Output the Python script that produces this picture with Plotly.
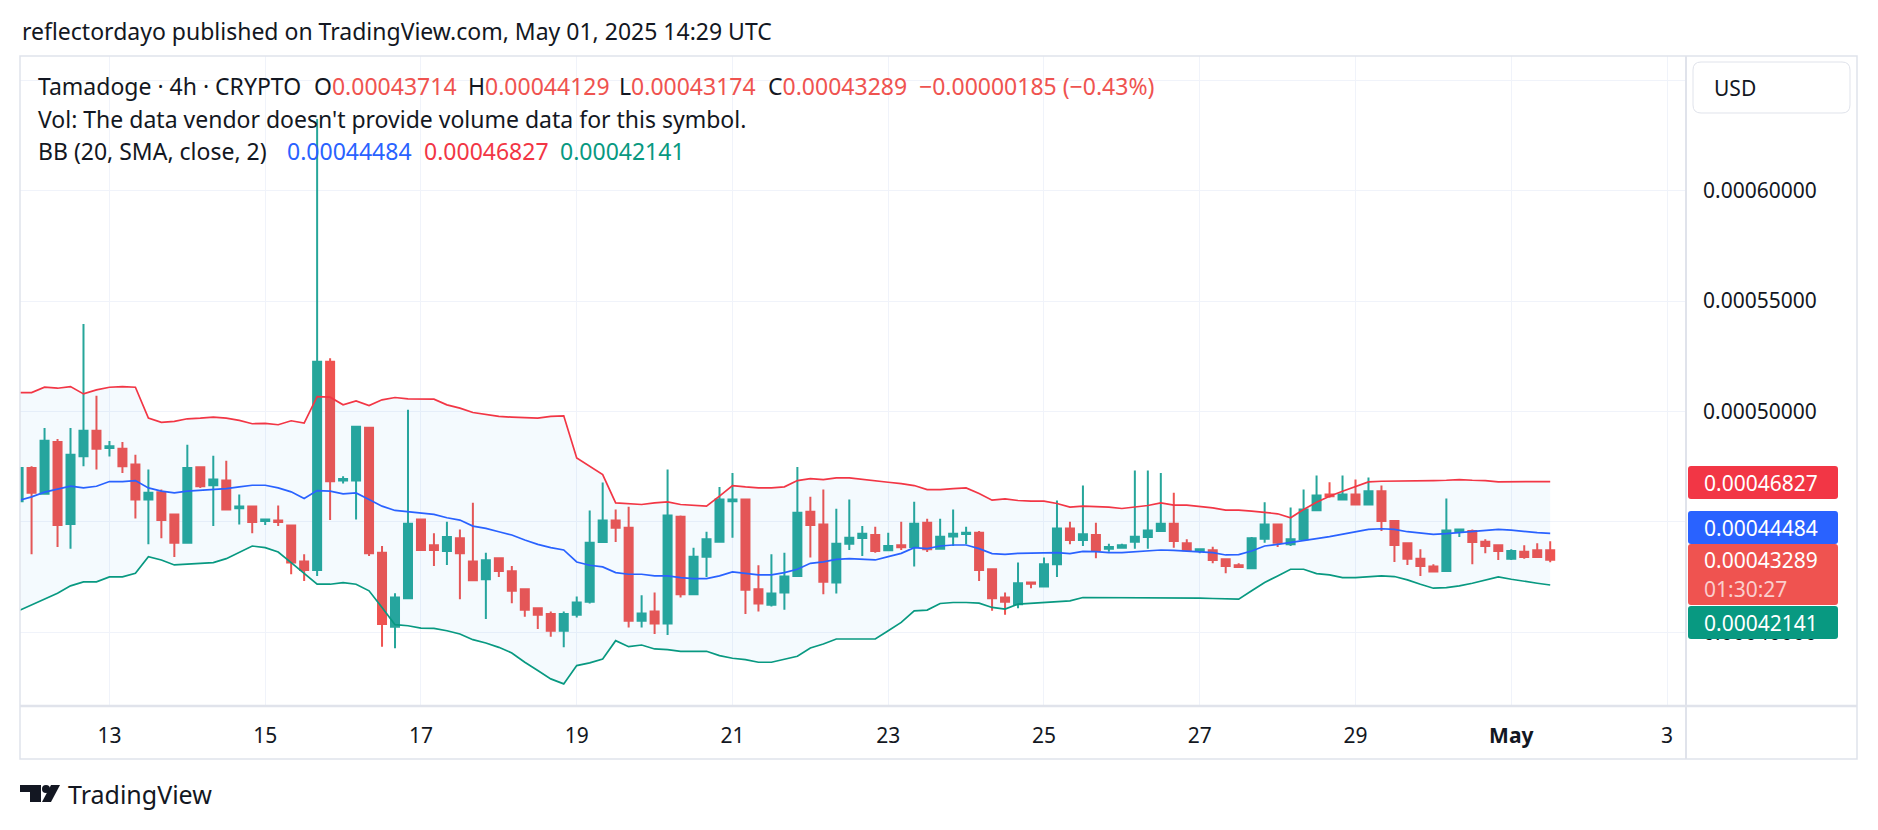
import plotly.graph_objects as go
import pandas as pd

# ---------------- data (prices in 1e-8 USD) ----------------
START = "2025-04-11 20:00"   # first (partially visible) 4h candle
SCALE = 1e-8

opens = [45938, 47442, 46269, 48616, 44901, 47969, 49127, 48345, 48315, 47593,
         46014, 46344, 45337, 44058, 47472, 46660, 46871, 45622, 45697, 45036,
         45066, 44840, 43201, 42825, 52255, 46871, 46871, 49262, 43607, 40253,
         41547, 45111, 43938, 43683, 44254, 43201, 42404, 43351, 42765, 41953,
         41095, 40825, 40073, 40794, 41381, 44088, 45066, 44735, 40524, 40945,
         40404, 45232, 41728, 43427, 44103, 45938, 46014, 41953, 41246, 41802,
         42554, 45457, 44886, 42254, 44014, 44269, 44404, 43713, 43938, 43863,
         44961, 43788, 44344, 44450, 44510, 42855, 41577, 41276, 42254, 42073,
         43081, 44705, 44179, 44404, 43788, 43833, 44103, 44314, 44585, 44916,
         44028, 43683, 43713, 43306, 43036, 42900, 44239, 44886, 43983, 44209,
         45532, 46239, 46014, 46239, 45788, 46390, 45036, 44028, 43336, 42976,
         42780, 44555, 44585, 44103, 43938, 43336, 43652, 43713, 43714]

highs = [47600, 47518, 49247, 48751, 49247, 53955, 50706, 48661, 48616, 48044,
         47367, 46465, 45337, 48495, 47518, 47999, 47773, 46239, 45697, 45111,
         45743, 44840, 43532, 63246, 52406, 47066, 49307, 49262, 43908, 41772,
         50074, 45111, 44480, 45006, 44660, 45863, 43607, 43351, 43006, 41953,
         41126, 40945, 40945, 41622, 45517, 46781, 45562, 45683, 41682, 41802,
         47367, 45292, 43833, 44555, 46585, 47217, 46059, 43036, 43532, 43607,
         47487, 46134, 46465, 45593, 46014, 44810, 44780, 44510, 45006, 45908,
         45142, 45142, 45562, 44780, 44585, 42855, 41802, 43156, 42254, 43382,
         45969, 45006, 46645, 44961, 44013, 44013, 47322, 47322, 47217, 46314,
         44209, 43788, 43878, 43306, 43126, 44314, 45893, 44916, 45653, 46465,
         47096, 46796, 47096, 46916, 47006, 46645, 45081, 44028, 43758, 43081,
         46059, 44660, 44660, 44209, 43938, 43758, 43938, 44028, 44129]

lows = [45800, 43532, 46239, 43863, 43788, 47518, 47367, 47958, 47217, 45157,
        43983, 44254, 43412, 44028, 46540, 44810, 45562, 44886, 44480, 44856,
        44810, 42630, 42329, 42554, 45081, 46735, 45111, 43457, 39351, 39276,
        41547, 43728, 43006, 43051, 41502, 42329, 40599, 42509, 41321, 40705,
        40147, 39802, 39321, 40675, 41306, 44088, 44088, 40223, 40223, 39922,
        39877, 41577, 41728, 42510, 44103, 44284, 40825, 40945, 41171, 41020,
        42509, 43382, 41728, 41758, 43728, 43457, 43607, 43683, 43728, 42976,
        43638, 43788, 43908, 43983, 42329, 40975, 40795, 41095, 41998, 42073,
        42510, 43983, 43908, 43352, 43652, 43833, 43788, 43788, 44540, 43833,
        43713, 43577, 43126, 42675, 42916, 42855, 44058, 43863, 43908, 44209,
        45532, 46089, 46014, 45788, 45788, 44585, 43186, 43051, 42555, 42750,
        42780, 44314, 43081, 43577, 43276, 43276, 43336, 43412, 43174]

closes = [47442, 46314, 48676, 44856, 48044, 49127, 48315, 48420, 47518, 46014,
          46314, 45081, 44058, 47442, 46615, 46916, 45562, 45697, 44991, 45111,
          44991, 43156, 42825, 52255, 46841, 46946, 49307, 43577, 40374, 41577,
          44916, 43728, 43728, 44314, 43577, 42359, 43261, 42780, 41877, 41020,
          40794, 40073, 40825, 41351, 44058, 45066, 44735, 40524, 40855, 40404,
          45292, 41728, 43427, 44209, 46014, 46014, 41923, 41306, 41757, 42524,
          45412, 44856, 42284, 44014, 44284, 44465, 43683, 43908, 43848, 44916,
          43758, 44329, 44465, 44510, 42825, 41547, 41381, 42223, 42194, 43081,
          44705, 44179, 44435, 43728, 43863, 43938, 44329, 44615, 44916, 44134,
          43713, 43758, 43276, 43006, 42961, 44254, 44886, 44058, 44209, 45562,
          46194, 46164, 46239, 45788, 46390, 45036, 43953, 43336, 43006, 42750,
          44615, 44660, 44088, 43908, 43683, 43683, 43412, 43412, 43289]

bb_upper = [50857, 50857, 51097, 51052, 51127, 50796, 50977, 51097, 51127, 51097,
            49698, 49503, 49548, 49668, 49698, 49743, 49698, 49593, 49443, 49458,
            49398, 49578, 49473, 50676, 50646, 50300, 50480, 50270, 50526, 50631,
            50571, 50556, 50556, 50300, 50150, 49954, 49879, 49774, 49743, 49728,
            49698, 49774, 49804, 47894, 47518, 47142, 45863, 45833, 45788, 45863,
            45908, 45788, 45743, 45713, 46164, 46645, 46585, 46540, 46540, 46585,
            46871, 46961, 46916, 46991, 46991, 46916, 46841, 46796, 46735, 46645,
            46465, 46465, 46510, 46540, 46284, 45983, 46044, 45968, 45938, 45938,
            45833, 45668, 45713, 45698, 45668, 45607, 45668, 45743, 45863, 45758,
            45758, 45713, 45638, 45532, 45532, 45487, 45442, 45367, 45186, 45562,
            45893, 46164, 46390, 46615, 46811, 46841, 46841, 46841, 46841, 46871,
            46886, 46916, 46886, 46871, 46811, 46811, 46811, 46811, 46827]

bb_basis = [45969, 46134, 46345, 46465, 46615, 46540, 46615, 46826, 46826, 46871,
            46540, 46390, 46314, 46390, 46420, 46465, 46510, 46585, 46660, 46660,
            46540, 46360, 46059, 46420, 46390, 46269, 46314, 46014, 45713, 45518,
            45457, 45367, 45337, 45186, 45081, 44810, 44705, 44555, 44404, 44179,
            43983, 43833, 43728, 43186, 43036, 42961, 42705, 42630, 42630, 42554,
            42554, 42479, 42434, 42434, 42554, 42735, 42675, 42600, 42600, 42705,
            42855, 43126, 43186, 43306, 43336, 43306, 43276, 43427, 43577, 43833,
            43788, 43908, 43953, 43953, 43788, 43562, 43532, 43577, 43577, 43607,
            43607, 43562, 43667, 43652, 43607, 43607, 43637, 43683, 43728, 43713,
            43683, 43637, 43607, 43502, 43517, 43683, 43908, 43983, 44058, 44164,
            44239, 44329, 44435, 44555, 44660, 44690, 44660, 44555, 44480, 44435,
            44465, 44510, 44585, 44630, 44660, 44630, 44555, 44510, 44484]

bb_lower = [40975, 41246, 41502, 41772, 42103, 42284, 42284, 42510, 42510, 42675,
            43427, 43276, 43051, 43081, 43111, 43156, 43336, 43607, 43908, 43833,
            43637, 43156, 42675, 42178, 42178, 42254, 42178, 41878, 41126, 40344,
            40298, 40193, 40178, 40073, 39922, 39667, 39516, 39321, 39066, 38644,
            38268, 37892, 37666, 38494, 38614, 38794, 39622, 39351, 39426, 39246,
            39216, 39140, 39140, 39140, 38945, 38825, 38764, 38644, 38644, 38764,
            38915, 39291, 39471, 39697, 39697, 39697, 39697, 40073, 40449, 40975,
            41005, 41306, 41351, 41351, 41321, 41126, 41050, 41276, 41321, 41351,
            41396, 41426, 41577, 41577, 41577, 41577, 41577, 41577, 41547, 41562,
            41562, 41547, 41532, 41502, 41502, 41878, 42254, 42554, 42855, 42855,
            42660, 42600, 42479, 42479, 42510, 42555, 42525, 42374, 42178, 41998,
            42028, 42103, 42223, 42374, 42510, 42404, 42299, 42223, 42141]

x_tick_dates = ["2025-04-13", "2025-04-15", "2025-04-17", "2025-04-19", "2025-04-21",
                "2025-04-23", "2025-04-25", "2025-04-27", "2025-04-29", "2025-05-01",
                "2025-05-03"]
x_tick_labels = ["13", "15", "17", "19", "21", "23", "25", "27", "29", "<b>May</b>", "3"]
y_tick_values = [0.00040, 0.00045, 0.00050, 0.00055, 0.00060, 0.00065]
# labels of 0.00045 and 0.00065 are hidden behind the price tags / USD box
y_tick_labels = ["0.00040000", "", "0.00050000", "0.00055000", "0.00060000", ""]

# ---------------- styling ----------------
FONT = "Noto Sans, Open Sans, sans-serif"
TXT = "#131722"
UP, DOWN = "#26a69a", "#ef5350"
W, H = 1878, 830
PL, PR, PT, PB = 20, 1686, 56, 706


def px_x(px):
    return (px - PL) / (PR - PL)


def px_y(py):
    return (PB - py) / (PB - PT)


def sc(vals):
    return [v * SCALE for v in vals]


times = pd.date_range(START, periods=len(opens), freq="4h")

fig = go.Figure()
fig.add_trace(go.Scatter(x=times, y=sc(bb_upper), mode="lines",
                         line=dict(color="#f23645", width=1.7), hoverinfo="skip"))
fig.add_trace(go.Scatter(x=times, y=sc(bb_lower), mode="lines", fill="tonexty",
                         fillcolor="rgba(33,150,243,0.05)",
                         line=dict(color="#089981", width=1.7), hoverinfo="skip"))
fig.add_trace(go.Scatter(x=times, y=sc(bb_basis), mode="lines",
                         line=dict(color="#2962ff", width=1.7), hoverinfo="skip"))
fig.add_trace(go.Candlestick(
    x=times, open=sc(opens), high=sc(highs), low=sc(lows), close=sc(closes),
    increasing=dict(line=dict(color=UP, width=2), fillcolor=UP),
    decreasing=dict(line=dict(color=DOWN, width=2), fillcolor=DOWN),
    whiskerwidth=0, hoverinfo="skip"))

fig.update_layout(
    width=W, height=H,
    margin=dict(l=PL, r=W - PR, t=PT, b=H - PB, pad=0),
    paper_bgcolor="white", plot_bgcolor="white",
    showlegend=False, hovermode=False,
    boxgap=0.35, boxgroupgap=0.05,
    font=dict(family=FONT, color=TXT),
)
fig.update_xaxes(
    type="date", range=["2025-04-11 20:26", "2025-05-03 05:51"],
    rangeslider=dict(visible=False),
    tickvals=x_tick_dates, ticktext=x_tick_labels,
    tickfont=dict(size=21, color=TXT, family=FONT),
    showgrid=True, gridcolor="#f0f3fa", gridwidth=1,
    zeroline=False, showline=False, ticks="", ticklabelstandoff=15,
)
fig.update_yaxes(
    side="right", range=[0.00036664, 0.00066094],
    tickvals=y_tick_values, ticktext=y_tick_labels,
    tickfont=dict(size=21, color=TXT, family=FONT),
    showgrid=True, gridcolor="#f0f3fa", gridwidth=1,
    zeroline=False, showline=False, ticks="", ticklabelstandoff=16,
)

shapes = []
# outer frame and separators
shapes.append(dict(type="rect", xref="paper", yref="paper",
                   x0=px_x(20), x1=px_x(1857), y0=px_y(759), y1=px_y(56),
                   line=dict(color="#e0e3eb", width=1.5), layer="above"))
shapes.append(dict(type="line", xref="paper", yref="paper",
                   x0=px_x(1686), x1=px_x(1686), y0=px_y(759), y1=px_y(56),
                   line=dict(color="#e0e3eb", width=2), layer="above"))
shapes.append(dict(type="line", xref="paper", yref="paper",
                   x0=px_x(20), x1=px_x(1857), y0=px_y(706), y1=px_y(706),
                   line=dict(color="#e0e3eb", width=2.5), layer="above"))


def rrect(x0, y0, x1, y1, r):
    def P(x, y):
        return f"{px_x(x):.6f},{px_y(y):.6f}"
    return (f"M{P(x0 + r, y0)} L{P(x1 - r, y0)} Q{P(x1, y0)} {P(x1, y0 + r)} "
            f"L{P(x1, y1 - r)} Q{P(x1, y1)} {P(x1 - r, y1)} L{P(x0 + r, y1)} "
            f"Q{P(x0, y1)} {P(x0, y1 - r)} L{P(x0, y0 + r)} Q{P(x0, y0)} {P(x0 + r, y0)} Z")


# USD box
shapes.append(dict(type="path", xref="paper", yref="paper", path=rrect(1693, 62, 1850, 113, 8),
                   fillcolor="white", line=dict(color="#e0e3eb", width=1), layer="above"))

# price labels on the right scale
labels = [
    (466, 499, "#f23645"),
    (511, 544, "#2962ff"),
    (544, 605, "#ef5350"),
    (606, 639, "#089981"),
]
for y0, y1, col in labels:
    shapes.append(dict(type="path", xref="paper", yref="paper", path=rrect(1688, y0, 1838, y1, 3),
                       fillcolor=col, line=dict(width=0), layer="above"))

# TradingView logo
shapes.append(dict(type="rect", xref="paper", yref="paper",
                   x0=px_x(20), x1=px_x(41), y0=px_y(792), y1=px_y(785),
                   fillcolor="#131722", line=dict(width=0), layer="above"))
shapes.append(dict(type="rect", xref="paper", yref="paper",
                   x0=px_x(30), x1=px_x(41), y0=px_y(802), y1=px_y(785),
                   fillcolor="#131722", line=dict(width=0), layer="above"))
shapes.append(dict(type="circle", xref="paper", yref="paper",
                   x0=px_x(42), x1=px_x(50), y0=px_y(793), y1=px_y(785),
                   fillcolor="#131722", line=dict(width=0), layer="above"))
shapes.append(dict(type="path", xref="paper", yref="paper",
                   path=f"M{px_x(51)},{px_y(785)} L{px_x(60)},{px_y(785)} "
                        f"L{px_x(51)},{px_y(802)} L{px_x(42)},{px_y(802)} Z",
                   fillcolor="#131722", line=dict(width=0), layer="above"))
fig.update_layout(shapes=shapes)


def ann(text, x, y, size, color=TXT, xanchor="left"):
    fig.add_annotation(text=text, x=px_x(x), y=px_y(y), xref="paper", yref="paper",
                       xanchor=xanchor, yanchor="middle", showarrow=False,
                       font=dict(size=size, color=color, family=FONT), align="left")


R = "#ef5350"
LF = 23
ann("reflectordayo published on TradingView.com, May 01, 2025 14:29 UTC", 20, 31, 23)
ann("Tamadoge · 4h · CRYPTO", 36, 86, LF)
ann(f"O<span style='color:{R}'>0.00043714</span>", 312, 86, LF)
ann(f"H<span style='color:{R}'>0.00044129</span>", 466, 86, LF)
ann(f"L<span style='color:{R}'>0.00043174</span>", 617, 86, LF)
ann(f"C<span style='color:{R}'>0.00043289</span>", 766, 86, LF)
ann("−0.00000185 (−0.43%)", 917, 86, LF, R)
ann("Vol: The data vendor doesn't provide volume data for this symbol.", 36, 119, LF)
ann("BB (20, SMA, close, 2)", 36, 151, LF)
ann("0.00044484", 285, 151, LF, "#2962ff")
ann("0.00046827", 422, 151, LF, "#f23645")
ann("0.00042141", 558, 151, LF, "#089981")

ann("USD", 1712, 88, 21)
ann("0.00046827", 1702, 483, 21, "white")
ann("0.00044484", 1702, 528, 21, "white")
ann("0.00043289", 1702, 560, 21, "white")
ann("01:30:27", 1702, 589, 21, "rgba(255,255,255,0.72)")
ann("0.00042141", 1702, 623, 21, "white")

ann("TradingView", 66, 794, 25)

fig.write_html("out.html", config={"displayModeBar": False})
